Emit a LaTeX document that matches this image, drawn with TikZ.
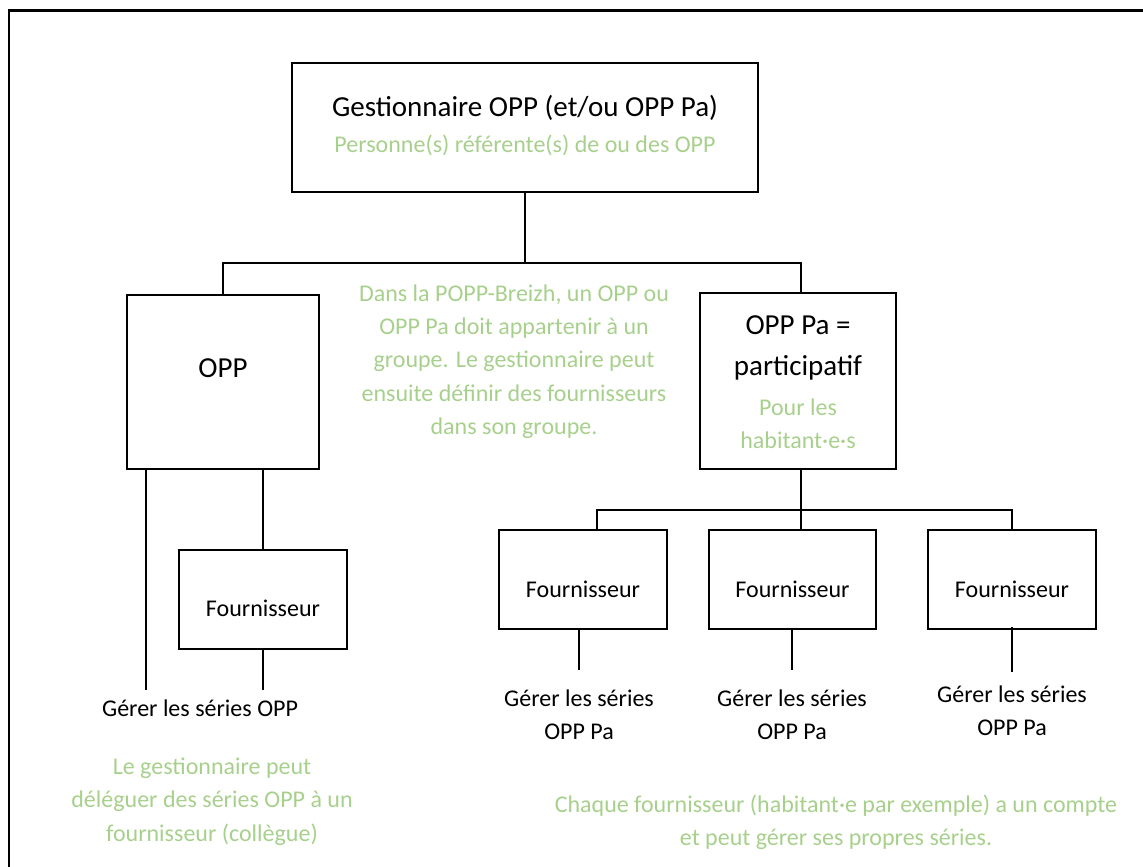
\documentclass[tikz,border=0pt]{standalone}
\usepackage{fontspec}
\setmainfont{Carlito}
\definecolor{lgreen}{HTML}{A8D08D}
\begin{document}
\begin{tikzpicture}[x=1pt,y=-1pt,
  box/.style={draw, line width=2.6pt, inner sep=0pt},
  conn/.style={line width=2.4pt},
  big/.style={font=\fontsize{29}{41}\selectfont, inner sep=0pt, align=center},
  txt/.style={font=\fontsize{24}{33.3}\selectfont, inner sep=0pt, align=center},
  gtxt/.style={txt, text=lgreen}]
\useasboundingbox (0,0) rectangle (1143,867);
% outer frame (cropped)
\coordinate (fa) at (9,867);
\coordinate (fb) at (9,10.5);
\coordinate (fc) at (1143,10.5);
\draw[line width=2.5pt] (fa) -- (fb) -- (fc);

% top box
\node[box, minimum width=466pt, minimum height=129pt] (top) at (525,127.5) {};
\node[big] (toptitle) at (525,108) {Gestionnaire OPP (et/ou OPP Pa)};
\node[gtxt] (topsub) at (525,145) {Personne(s) référente(s) de ou des OPP};

% OPP box
\node[box, minimum width=192pt, minimum height=174pt] (opp) at (223,382) {};
\node[big] (opptxt) at (223,368) {OPP};

% OPP Pa box
\node[box, minimum width=196pt, minimum height=176pt] (oppa) at (798,381) {};
\node[big] (oppatxt) at (798,347.5) {OPP Pa =\\participatif};
\node[gtxt] (oppasub) at (798,423.5) {Pour les\\habitant·e·s};

% middle note
\node[gtxt] (midnote) at (514,361.5) {Dans la POPP-Breizh, un OPP ou\\OPP Pa doit appartenir à un\\groupe. Le gestionnaire peut\\ensuite définir des fournisseurs\\dans son groupe.};

% connectors top
\coordinate (j1) at (525,263);
\draw[conn] (top.south) -- (j1);
\draw[conn] (opp.north) |- (j1) -| ([xshift=3pt]oppa.north);

% left side
\node[box, minimum width=168pt, minimum height=99pt] (f0) at (263,599.5) {};
\node[txt] (f0txt) at (263,608) {Fournisseur};
\coordinate (e1) at (146,690);
\coordinate (e2) at (263,690);
\draw[conn] (opp.south -| e1) -- (e1);
\draw[conn] (opp.south -| f0.north) -- (f0.north);
\draw[conn] (f0.south) -- (e2);
\node[txt] (g0) at (200,708) {Gérer les séries OPP};
\node[gtxt] (note0) at (212,801.5) {Le gestionnaire peut\\déléguer des séries OPP à un\\fournisseur (collègue)};

% right side
\node[box, minimum width=168pt, minimum height=99pt] (f1) at (583,579.5) {};
\node[box, minimum width=167pt, minimum height=99pt] (f2) at (792.5,579.5) {};
\node[box, minimum width=168pt, minimum height=99pt] (f3) at (1012,579.5) {};
\node[txt] (f1txt) at (583,589) {Fournisseur};
\node[txt] (f2txt) at (792.5,589) {Fournisseur};
\node[txt] (f3txt) at (1012,589) {Fournisseur};
\coordinate (j2) at (801,510);
\draw[conn] (oppa.south -| j2) -- (j2 |- f2.north);
\draw[conn] ([xshift=14pt]f1.north) |- (j2) -| (f3.north);
\coordinate (e3) at (579,670);
\coordinate (e4) at (792,670);
\coordinate (e5) at (1012,672);
\draw[conn] (f1.south -| e3) -- (e3);
\draw[conn] (f2.south -| e4) -- (e4);
\draw[conn] ([yshift=3pt]f3.south) -- (e5);
\node[txt] (g1) at (579,715) {Gérer les séries\\OPP Pa};
\node[txt] (g2) at (792,715) {Gérer les séries\\OPP Pa};
\node[txt] (g3) at (1012,711) {Gérer les séries\\OPP Pa};
\node[gtxt] (note1) at (836,822) {Chaque fournisseur (habitant·e par exemple) a un compte\\et peut gérer ses propres séries.};
\end{tikzpicture}
\end{document}
